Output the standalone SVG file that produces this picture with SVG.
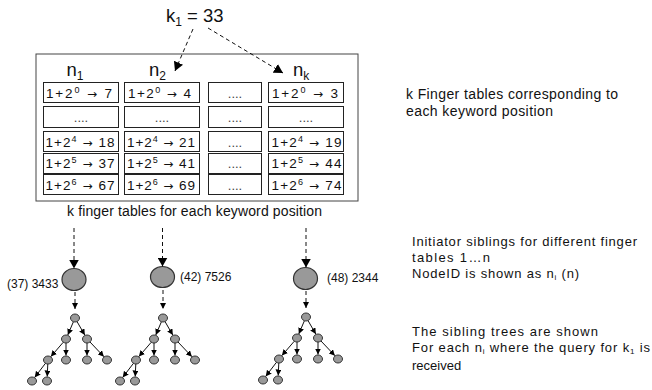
<svg xmlns="http://www.w3.org/2000/svg" width="652" height="390" viewBox="0 0 652 390">
<style>
text{font-family:"Liberation Sans",Arial,sans-serif;fill:#111}
.big{font-size:18.5px}
.sub{font-size:12px}
.cellt{font-size:13.5px}
.ar{font-family:"DejaVu Sans",sans-serif;font-size:12px}
.dots{font-size:13px;fill:#444}
.sup{font-size:9px}
.lbl{font-size:12px}
.note{font-size:14px}
.note2{font-size:13px}
.cap{font-size:14px}
.cell{fill:#fff;stroke:#222;stroke-width:1}
.frame{fill:#fff;stroke:#444;stroke-width:1}
.bn{fill:#999;stroke:#333;stroke-width:1.2}
.sn{fill:#999;stroke:#333;stroke-width:1}
.dash{fill:none;stroke:#111;stroke-width:1;stroke-dasharray:4 3}
.edge{fill:none;stroke:#111;stroke-width:1}
</style>
<defs>
<marker id="ah" markerUnits="userSpaceOnUse" markerWidth="9" markerHeight="10" refX="9" refY="5" orient="auto"><path d="M0,0L9,5L0,10z" fill="#000"/></marker>
<marker id="as" markerUnits="userSpaceOnUse" markerWidth="6" markerHeight="6" refX="6" refY="3" orient="auto"><path d="M0,0L6,3L0,6z" fill="#000"/></marker>
</defs>
<rect width="652" height="390" fill="#fff"/>

<g id="key"><text class="big" x="166" y="21.5">k<tspan class="sub" dy="4">1</tspan><tspan dy="-4"> = 33</tspan></text></g>

<g id="finger-tables">
<rect class="frame" x="36" y="54" width="322" height="147"/>
<text class="big" x="66.5" y="76">n<tspan class="sub" dy="4">1</tspan></text>
<text class="big" x="149" y="76">n<tspan class="sub" dy="4">2</tspan></text>
<text class="big" x="293" y="76">n<tspan class="sub" dy="4">k</tspan></text>

<g id="col1">
<rect class="cell" x="43.5" y="82.5" width="75" height="20"/>
<rect class="cell" x="43.5" y="106.5" width="75" height="21"/>
<rect class="cell" x="43.5" y="131.5" width="75" height="20"/>
<rect class="cell" x="43.5" y="153.5" width="75" height="20"/>
<rect class="cell" x="43.5" y="174.5" width="75" height="20"/>
<text class="cellt" x="46" y="97.5" textLength="66">1+2<tspan class="sup" dy="-5">0</tspan><tspan class="ar" dy="5"> → </tspan><tspan>7</tspan></text>
<text class="dots" x="81" y="122" text-anchor="middle">....</text>
<text class="cellt" x="45.5" y="146.5" textLength="69">1+2<tspan class="sup" dy="-5">4</tspan><tspan class="ar" dy="5"> → </tspan><tspan>18</tspan></text>
<text class="cellt" x="45.5" y="168" textLength="69">1+2<tspan class="sup" dy="-5">5</tspan><tspan class="ar" dy="5"> → </tspan><tspan>37</tspan></text>
<text class="cellt" x="45.5" y="189.5" textLength="69">1+2<tspan class="sup" dy="-5">6</tspan><tspan class="ar" dy="5"> → </tspan><tspan>67</tspan></text>
</g>
<g id="col2">
<rect class="cell" x="124.5" y="82.5" width="75" height="20"/>
<rect class="cell" x="124.5" y="106.5" width="75" height="21"/>
<rect class="cell" x="124.5" y="131.5" width="75" height="20"/>
<rect class="cell" x="124.5" y="153.5" width="75" height="20"/>
<rect class="cell" x="124.5" y="174.5" width="75" height="20"/>
<text class="cellt" x="128" y="97.5" textLength="63">1+2<tspan class="sup" dy="-5">0</tspan><tspan class="ar" dy="5"> → </tspan><tspan>4</tspan></text>
<text class="dots" x="162" y="122" text-anchor="middle">....</text>
<text class="cellt" x="127" y="146.5" textLength="68">1+2<tspan class="sup" dy="-5">4</tspan><tspan class="ar" dy="5"> → </tspan><tspan>21</tspan></text>
<text class="cellt" x="127" y="168" textLength="68">1+2<tspan class="sup" dy="-5">5</tspan><tspan class="ar" dy="5"> → </tspan><tspan>41</tspan></text>
<text class="cellt" x="127" y="189.5" textLength="68">1+2<tspan class="sup" dy="-5">6</tspan><tspan class="ar" dy="5"> → </tspan><tspan>69</tspan></text>
</g>
<g id="col3">
<rect class="cell" x="208.5" y="82.5" width="53" height="20"/>
<rect class="cell" x="208.5" y="106.5" width="53" height="21"/>
<rect class="cell" x="208.5" y="131.5" width="53" height="20"/>
<rect class="cell" x="208.5" y="153.5" width="53" height="20"/>
<rect class="cell" x="208.5" y="174.5" width="53" height="20"/>
<text class="dots" x="235" y="98" text-anchor="middle">....</text>
<text class="dots" x="235" y="122" text-anchor="middle">....</text>
<text class="dots" x="235" y="146.5" text-anchor="middle">....</text>
<text class="dots" x="235" y="168" text-anchor="middle">....</text>
<text class="dots" x="235" y="189.5" text-anchor="middle">....</text>
</g>
<g id="col4">
<rect class="cell" x="268.5" y="82.5" width="75" height="20"/>
<rect class="cell" x="268.5" y="106.5" width="75" height="21"/>
<rect class="cell" x="268.5" y="131.5" width="75" height="20"/>
<rect class="cell" x="268.5" y="153.5" width="75" height="20"/>
<rect class="cell" x="268.5" y="174.5" width="75" height="20"/>
<text class="cellt" x="272" y="97.5" textLength="66">1+2<tspan class="sup" dy="-5">0</tspan><tspan class="ar" dy="5"> → </tspan><tspan>3</tspan></text>
<text class="dots" x="306" y="122" text-anchor="middle">....</text>
<text class="cellt" x="271.5" y="146.5" textLength="70">1+2<tspan class="sup" dy="-5">4</tspan><tspan class="ar" dy="5"> → </tspan><tspan>19</tspan></text>
<text class="cellt" x="271.5" y="168" textLength="70">1+2<tspan class="sup" dy="-5">5</tspan><tspan class="ar" dy="5"> → </tspan><tspan>44</tspan></text>
<text class="cellt" x="271.5" y="189.5" textLength="70">1+2<tspan class="sup" dy="-5">6</tspan><tspan class="ar" dy="5"> → </tspan><tspan>74</tspan></text>
</g>
</g>

<g id="caption"><text class="cap" x="67" y="216" textLength="255">k finger tables for each keyword position</text></g>

<g id="initiator1"><ellipse class="bn" cx="74" cy="279.5" rx="12" ry="11"/><text class="lbl" x="7" y="287.5">(37) 3433</text></g>
<g id="initiator2"><ellipse class="bn" cx="162.5" cy="277" rx="12" ry="10.5"/><text class="lbl" x="180" y="281">(42) 7526</text></g>
<g id="initiator3"><ellipse class="bn" cx="305.5" cy="278.5" rx="12" ry="11"/><text class="lbl" x="327" y="282">(48) 2344</text></g>

<g id="tree1">
<g id="t1-r"><ellipse class="sn" cx="75" cy="318" rx="4.5" ry="4"/></g>
<g id="t1-a"><ellipse class="sn" cx="66" cy="339" rx="4.5" ry="4"/></g>
<g id="t1-b"><ellipse class="sn" cx="87" cy="339" rx="4.5" ry="4"/></g>
<g id="t1-c"><ellipse class="sn" cx="48" cy="360" rx="4.5" ry="4"/></g>
<g id="t1-d"><ellipse class="sn" cx="66" cy="360" rx="4.5" ry="4"/></g>
<g id="t1-e"><ellipse class="sn" cx="87" cy="360" rx="4.5" ry="4"/></g>
<g id="t1-f"><ellipse class="sn" cx="107" cy="360" rx="4.5" ry="4"/></g>
<g id="t1-g"><ellipse class="sn" cx="32" cy="381" rx="4.5" ry="4"/></g>
<g id="t1-h"><ellipse class="sn" cx="47" cy="381" rx="4.5" ry="4"/></g>
</g>
<g id="tree2" transform="translate(88,0)">
<g id="t2-r"><ellipse class="sn" cx="75" cy="318" rx="4.5" ry="4"/></g>
<g id="t2-a"><ellipse class="sn" cx="66" cy="339" rx="4.5" ry="4"/></g>
<g id="t2-b"><ellipse class="sn" cx="87" cy="339" rx="4.5" ry="4"/></g>
<g id="t2-c"><ellipse class="sn" cx="48" cy="360" rx="4.5" ry="4"/></g>
<g id="t2-d"><ellipse class="sn" cx="66" cy="360" rx="4.5" ry="4"/></g>
<g id="t2-e"><ellipse class="sn" cx="87" cy="360" rx="4.5" ry="4"/></g>
<g id="t2-f"><ellipse class="sn" cx="107" cy="360" rx="4.5" ry="4"/></g>
<g id="t2-g"><ellipse class="sn" cx="32" cy="381" rx="4.5" ry="4"/></g>
<g id="t2-h"><ellipse class="sn" cx="47" cy="381" rx="4.5" ry="4"/></g>
</g>
<g id="tree3" transform="translate(231,-1)">
<g id="t3-r"><ellipse class="sn" cx="75" cy="318" rx="4.5" ry="4"/></g>
<g id="t3-a"><ellipse class="sn" cx="66" cy="339" rx="4.5" ry="4"/></g>
<g id="t3-b"><ellipse class="sn" cx="87" cy="339" rx="4.5" ry="4"/></g>
<g id="t3-c"><ellipse class="sn" cx="48" cy="360" rx="4.5" ry="4"/></g>
<g id="t3-d"><ellipse class="sn" cx="66" cy="360" rx="4.5" ry="4"/></g>
<g id="t3-e"><ellipse class="sn" cx="87" cy="360" rx="4.5" ry="4"/></g>
<g id="t3-f"><ellipse class="sn" cx="107" cy="360" rx="4.5" ry="4"/></g>
<g id="t3-g"><ellipse class="sn" cx="32" cy="381" rx="4.5" ry="4"/></g>
<g id="t3-h"><ellipse class="sn" cx="47" cy="381" rx="4.5" ry="4"/></g>
</g>

<g id="connectors">
<path class="dash" d="M193,29L175,71" marker-end="url(#ah)"/>
<path class="dash" d="M208,28L283,73" marker-end="url(#ah)"/>
<path class="dash" d="M74,228L74,268.5" marker-end="url(#ah)"/>
<path class="dash" d="M162.5,228L162.5,266.5" marker-end="url(#ah)"/>
<path class="dash" d="M306,228L306,267.5" marker-end="url(#ah)"/>
<path class="dash" d="M75,292L75,309" marker-end="url(#as)"/>
<path class="dash" d="M163,290L163,309" marker-end="url(#as)"/>
<path class="dash" d="M306,291L306,308" marker-end="url(#as)"/>
<g id="tree1-edges">
<path class="edge" d="M73.3,322L67.8,334.9" marker-end="url(#as)"/>
<path class="edge" d="M77.1,321.7L84.8,335.1" marker-end="url(#as)"/>
<path class="edge" d="M63.2,342.3L50.9,356.6" marker-end="url(#as)"/>
<path class="edge" d="M66,343L66,355.5" marker-end="url(#as)"/>
<path class="edge" d="M87,343L87,355.5" marker-end="url(#as)"/>
<path class="edge" d="M90,342L103.9,356.7" marker-end="url(#as)"/>
<path class="edge" d="M45.4,363.4L34.7,377.4" marker-end="url(#as)"/>
<path class="edge" d="M47.8,364L47.2,376.5" marker-end="url(#as)"/>
</g>
<g id="tree2-edges" transform="translate(88,0)">
<path class="edge" d="M73.3,322L67.8,334.9" marker-end="url(#as)"/>
<path class="edge" d="M77.1,321.7L84.8,335.1" marker-end="url(#as)"/>
<path class="edge" d="M63.2,342.3L50.9,356.6" marker-end="url(#as)"/>
<path class="edge" d="M66,343L66,355.5" marker-end="url(#as)"/>
<path class="edge" d="M87,343L87,355.5" marker-end="url(#as)"/>
<path class="edge" d="M90,342L103.9,356.7" marker-end="url(#as)"/>
<path class="edge" d="M45.4,363.4L34.7,377.4" marker-end="url(#as)"/>
<path class="edge" d="M47.8,364L47.2,376.5" marker-end="url(#as)"/>
</g>
<g id="tree3-edges" transform="translate(231,-1)">
<path class="edge" d="M73.3,322L67.8,334.9" marker-end="url(#as)"/>
<path class="edge" d="M77.1,321.7L84.8,335.1" marker-end="url(#as)"/>
<path class="edge" d="M63.2,342.3L50.9,356.6" marker-end="url(#as)"/>
<path class="edge" d="M66,343L66,355.5" marker-end="url(#as)"/>
<path class="edge" d="M87,343L87,355.5" marker-end="url(#as)"/>
<path class="edge" d="M90,342L103.9,356.7" marker-end="url(#as)"/>
<path class="edge" d="M45.4,363.4L34.7,377.4" marker-end="url(#as)"/>
<path class="edge" d="M47.8,364L47.2,376.5" marker-end="url(#as)"/>
</g>
</g>

<g id="notes">
<text class="note" x="406" y="99" textLength="212">k Finger tables corresponding to</text>
<text class="note" x="406" y="116" textLength="147">each keyword position</text>
<text class="note2" x="412" y="246" textLength="225">Initiator siblings for different finger</text>
<text class="note2" x="412" y="262" textLength="78">tables 1…n</text>
<text class="note2" x="412" y="277.5" textLength="167">NodeID is shown as n<tspan font-size="8" dy="2">i</tspan><tspan dy="-2"> (n)</tspan></text>
<text class="note2" x="412" y="336" textLength="186">The sibling trees are shown</text>
<text class="note2" x="412" y="352" textLength="238">For each n<tspan font-size="8" dy="2">i</tspan><tspan dy="-2"> where the query for k</tspan><tspan font-size="8" dy="2">1</tspan><tspan dy="-2"> is</tspan></text>
<text class="note2" x="412" y="369.5">received</text>
</g>
</svg>
